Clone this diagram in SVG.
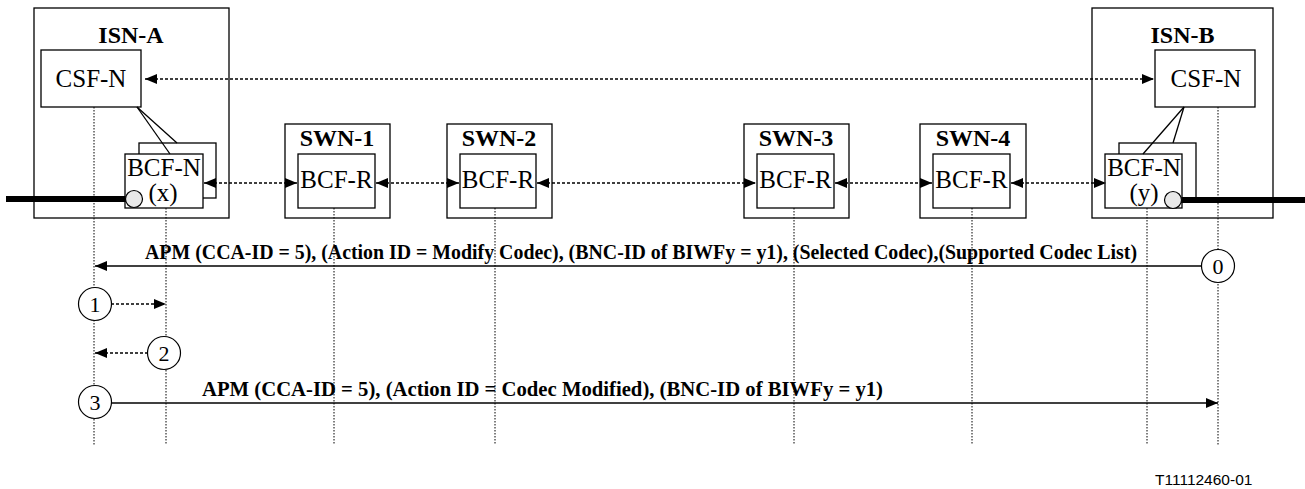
<svg xmlns="http://www.w3.org/2000/svg" width="1305" height="489" viewBox="0 0 1305 489">
<style>
.box{fill:none;stroke:#000;stroke-width:1.3}
.fbox{fill:#fff;stroke:#000;stroke-width:1.3}
.t{font-family:"Liberation Serif","Times New Roman",serif;font-size:25px;fill:#000}
.tb{font-family:"Liberation Serif","Times New Roman",serif;font-size:24px;font-weight:bold;fill:#000}
.msg{font-family:"Liberation Serif","Times New Roman",serif;font-size:20px;font-weight:bold;fill:#000}
.num{font-family:"Liberation Serif","Times New Roman",serif;font-size:22px;fill:#000;text-anchor:middle}
.life{stroke:#000;stroke-width:1;stroke-dasharray:1.5,1.5;fill:none}
.dash{stroke:#000;stroke-width:1.3;stroke-dasharray:3,2;fill:none}
.solid{stroke:#000;stroke-width:1.3;fill:none}
.thick{stroke:#000;stroke-width:6;fill:none}
.port{fill:#e8e8e8;stroke:#000;stroke-width:1.2}
.step{fill:#fff;stroke:#000;stroke-width:1.2}
.mid{text-anchor:middle}
</style>
<defs>
<marker id="ah" viewBox="0 0 12 10" refX="12" refY="5" markerWidth="12" markerHeight="10" orient="auto-start-reverse" markerUnits="userSpaceOnUse">
<path d="M0,0 L12,5 L0,10 z" fill="#000"/>
</marker>
</defs>
<rect width="1305" height="489" fill="#fff"/>

<g id="lifelines">
<line class="life" x1="94" y1="107" x2="94" y2="445"/>
<line class="life" x1="166" y1="208" x2="166" y2="445"/>
<line class="life" x1="334" y1="208" x2="334" y2="445"/>
<line class="life" x1="495" y1="208" x2="495" y2="445"/>
<line class="life" x1="794" y1="208" x2="794" y2="445"/>
<line class="life" x1="972" y1="208" x2="972" y2="445"/>
<line class="life" x1="1147" y1="208" x2="1147" y2="445"/>
<line class="life" x1="1218" y1="107" x2="1218" y2="445"/>
</g>

<g id="isn-a">
<rect class="box" x="34" y="8" width="195" height="210"/>
<text class="tb mid" x="131" y="43">ISN-A</text>
<rect class="fbox" x="41" y="50" width="100" height="57"/>
<text class="t mid" x="91" y="87">CSF-N</text>
<rect class="fbox" x="139" y="143" width="77" height="55"/>
<rect class="fbox" x="125" y="154" width="78" height="54"/>
<line class="solid" x1="137" y1="107" x2="170" y2="154"/>
<line class="solid" x1="137" y1="107" x2="177" y2="143"/>
<text class="t mid" x="164" y="176">BCF-N</text>
<text class="t mid" x="163" y="201">(x)</text>
<line class="thick" x1="6" y1="199" x2="127" y2="199"/>
<circle class="port" cx="134" cy="199" r="8.5"/>
</g>

<g id="swn-1">
<rect class="box" x="285" y="124" width="105" height="94"/>
<text class="tb mid" x="337" y="146">SWN-1</text>
<rect class="fbox" x="298" y="154" width="77" height="54"/>
<text class="t mid" x="336.5" y="188">BCF-R</text>
</g>

<g id="swn-2">
<rect class="box" x="447" y="124" width="105" height="94"/>
<text class="tb mid" x="499" y="146">SWN-2</text>
<rect class="fbox" x="460" y="154" width="76" height="54"/>
<text class="t mid" x="498" y="188">BCF-R</text>
</g>

<g id="swn-3">
<rect class="box" x="744" y="124" width="105" height="94"/>
<text class="tb mid" x="796" y="146">SWN-3</text>
<rect class="fbox" x="757" y="154" width="77" height="54"/>
<text class="t mid" x="795.5" y="188">BCF-R</text>
</g>

<g id="swn-4">
<rect class="box" x="920" y="124" width="106" height="94"/>
<text class="tb mid" x="973" y="146">SWN-4</text>
<rect class="fbox" x="933" y="154" width="77" height="54"/>
<text class="t mid" x="971.5" y="188">BCF-R</text>
</g>

<g id="isn-b">
<rect class="box" x="1092" y="8" width="181" height="210"/>
<text class="tb mid" x="1182.5" y="43">ISN-B</text>
<rect class="fbox" x="1155" y="50" width="100" height="57"/>
<text class="t mid" x="1206" y="87">CSF-N</text>
<rect class="fbox" x="1119" y="143" width="77" height="55"/>
<rect class="fbox" x="1105" y="154" width="77" height="54"/>
<line class="solid" x1="1184" y1="107" x2="1143" y2="154"/>
<line class="solid" x1="1184" y1="107" x2="1173" y2="143"/>
<text class="t mid" x="1144" y="176">BCF-N</text>
<text class="t mid" x="1144" y="201">(y)</text>
<line class="thick" x1="1181" y1="200" x2="1305" y2="200"/>
<circle class="port" cx="1173" cy="200" r="8.5"/>
</g>

<g id="connectors">
<line class="dash" x1="145" y1="79" x2="1154" y2="79" marker-start="url(#ah)" marker-end="url(#ah)"/>
<line class="dash" x1="204" y1="183" x2="297" y2="183" marker-start="url(#ah)" marker-end="url(#ah)"/>
<line class="dash" x1="376" y1="183" x2="459" y2="183" marker-start="url(#ah)" marker-end="url(#ah)"/>
<line class="dash" x1="537" y1="183" x2="756" y2="183" marker-start="url(#ah)" marker-end="url(#ah)"/>
<line class="dash" x1="835" y1="183" x2="932" y2="183" marker-start="url(#ah)" marker-end="url(#ah)"/>
<line class="dash" x1="1011" y1="183" x2="1106" y2="183" marker-start="url(#ah)" marker-end="url(#ah)"/>
</g>

<g id="messages">
<line class="solid" x1="1201" y1="266" x2="95" y2="266" marker-end="url(#ah)"/>
<text class="msg" x="145" y="259" textLength="992" lengthAdjust="spacingAndGlyphs">APM (CCA-ID = 5), (Action ID = Modify Codec), (BNC-ID of BIWFy = y1), (Selected Codec),(Supported Codec List)</text>
<circle class="step" cx="1218" cy="266" r="16.5"/>
<text class="num" x="1218" y="274">0</text>

<line class="dash" x1="111" y1="304" x2="166" y2="304" marker-end="url(#ah)"/>
<circle class="step" cx="95" cy="304" r="16.5"/>
<text class="num" x="95" y="312">1</text>

<line class="dash" x1="148" y1="353" x2="95" y2="353" marker-end="url(#ah)"/>
<circle class="step" cx="164" cy="353" r="16.5"/>
<text class="num" x="164" y="361">2</text>

<line class="solid" x1="111" y1="403" x2="1218" y2="403" marker-end="url(#ah)"/>
<text class="msg" x="202" y="396" textLength="681" lengthAdjust="spacingAndGlyphs">APM (CCA-ID = 5), (Action ID = Codec Modified), (BNC-ID of BIWFy = y1)</text>
<circle class="step" cx="95" cy="402" r="16.5"/>
<text class="num" x="95" y="410">3</text>
</g>

<text x="1155" y="485" font-family="'Liberation Sans',Arial,sans-serif" font-size="15.5" fill="#000">T11112460-01</text>
</svg>
